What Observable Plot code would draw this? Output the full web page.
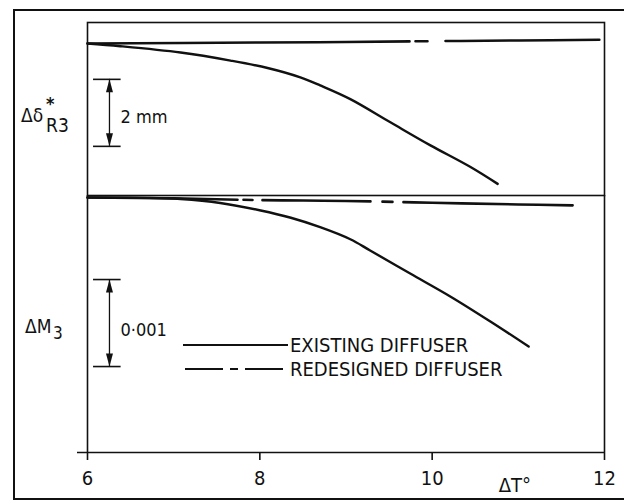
<!DOCTYPE html>
<html>
<head>
<meta charset="utf-8">
<script src="https://cdn.jsdelivr.net/npm/d3@7"></script>
<script src="https://cdn.jsdelivr.net/npm/@observablehq/plot@0.6"></script>
<style>
  html, body { margin: 0; padding: 0; background: #fff; }
  #wrap { position: relative; width: 624px; height: 504px; overflow: hidden; background: #fff; }
  #outer { position: absolute; left: 13px; top: 9px; width: 640px; height: 491px; border: 2px solid #111; box-sizing: border-box; }
  .abs { position: absolute; left: 0; }
  #overlay { position: absolute; left: 0; top: 0; pointer-events: none; }
</style>
</head>
<body>
<div id="wrap">
  <div id="outer"></div>
  <div id="upper" class="abs" style="top:0px"></div>
  <div id="lower" class="abs" style="top:195px"></div>
  <svg id="overlay" width="624" height="504"></svg>
</div>
<script>
// ---------- data ----------
const tickValues = [6, 8, 10, 12];

// upper panel: Δδ*R3 (mm)
const upperExistingT     = [6.0, 6.38, 7.08, 7.66, 8.09, 8.47, 8.70, 9.05, 9.52, 9.98, 10.44, 10.76];
const upperExistingDelta = [0, -0.08, -0.27, -0.51, -0.73, -1.01, -1.25, -1.66, -2.36, -3.04, -3.68, -4.19];
const upperRedesignedT     = [6.0, 8.0, 9.0, 10.0, 11.0, 11.94];
const upperRedesignedDelta = [0, 0.03, 0.045, 0.07, 0.09, 0.11];

// lower panel: ΔM3
const lowerExistingT = [6.0, 6.7, 7.08, 7.54, 8.01, 8.36, 8.70, 9.05, 9.28, 9.75, 10.21, 10.68, 11.12];
const lowerExistingM = [0, -0.000004, -0.000018, -0.000063, -0.000149, -0.000233, -0.000341, -0.000480, -0.000609, -0.000877, -0.001137, -0.001428, -0.001713];
const lowerRedesignedT = [6.0, 7.0, 8.0, 9.0, 10.0, 11.0, 11.63];
const lowerRedesignedM = [0, -0.00001, -0.00003, -0.00004, -0.00006, -0.00008, -0.00009];

// scale bars
const scaleBarT = 6.255;
const scaleBarEndsT = [6.07, 6.39];
const scaleBarMm = [-3.07, -1.07];        // 2 mm
const scaleBarM  = [-0.001943, -0.000943]; // 0.001
const scaleBarLabels = ["2 mm", "0·001"];

const seriesNames = ["EXISTING DIFFUSER", "REDESIGNED DIFFUSER"];

// ---------- helpers ----------
const FONT = "'DejaVu Sans Condensed', 'Liberation Sans Narrow', sans-serif";
const INK = "#111";
const toRows = (ts, vs) => ts.map((t, i) => ({T: t, v: vs[i]}));
const arrowUp = {draw(c) { c.moveTo(0, 0); c.lineTo(3.5, 13); c.lineTo(-3.5, 13); c.closePath(); }};
const arrowDown = {draw(c) { c.moveTo(0, 0); c.lineTo(3.5, -13); c.lineTo(-3.5, -13); c.closePath(); }};

function scaleBarMarks(vals, label, labelDy) {
  const [lo, hi] = vals;
  return [
    Plot.ruleY(vals, {x1: scaleBarEndsT[0], x2: scaleBarEndsT[1], stroke: INK, strokeWidth: 1.6}),
    Plot.ruleX([scaleBarT], {y1: lo, y2: hi, stroke: INK, strokeWidth: 1.3}),
    Plot.dot([{T: scaleBarT, v: hi}], {x: "T", y: "v", symbol: arrowUp, fill: INK, stroke: "none"}),
    Plot.dot([{T: scaleBarT, v: lo}], {x: "T", y: "v", symbol: arrowDown, fill: INK, stroke: "none"}),
    Plot.text([{T: scaleBarT, v: (lo + hi) / 2, label}], {x: "T", y: "v", text: "label", dx: 11, dy: labelDy, textAnchor: "start", fontSize: 18, fill: INK})
  ];
}

// ---------- upper panel ----------
const upper = Plot.plot({
  width: 624, height: 196,
  marginTop: 22, marginBottom: 1, marginLeft: 87, marginRight: 20,
  x: {domain: [6, 12], axis: null},
  y: {domain: [-4.537, 0.627], axis: null},
  style: {fontFamily: FONT, fontSize: "20px", color: INK, background: "transparent", overflow: "visible"},
  marks: [
    Plot.frame({stroke: INK, strokeWidth: 1.6}),
    Plot.line(toRows(upperRedesignedT, upperRedesignedDelta), {x: "T", y: "v", stroke: INK, strokeWidth: 2.6, strokeDasharray: "322,6,12,18,1000", curve: "catmull-rom"}),
    Plot.line(toRows(upperExistingT, upperExistingDelta), {x: "T", y: "v", stroke: INK, strokeWidth: 2.4, curve: "catmull-rom"}),
    ...scaleBarMarks(scaleBarMm, scaleBarLabels[0], 4)
  ]
});
document.getElementById("upper").appendChild(upper);

// ---------- lower panel ----------
const lower = Plot.plot({
  width: 624, height: 309,
  marginTop: 0, marginBottom: 52, marginLeft: 87, marginRight: 20,
  x: {domain: [6, 12], ticks: tickValues, tickSize: 8, tickPadding: 10, tickFormat: d => String(d), label: null},
  y: {domain: [-0.002931, 0.000023], axis: null},
  style: {fontFamily: FONT, fontSize: "20px", color: INK, background: "transparent", overflow: "visible"},
  marks: [
    Plot.ruleX([6, 12], {stroke: INK, strokeWidth: 1.6}),
    Plot.ruleY([-0.002931], {x1: 5.884, x2: 12, stroke: INK, strokeWidth: 1.6}),
    Plot.line(toRows(lowerRedesignedT, lowerRedesignedM), {x: "T", y: "v", stroke: INK, strokeWidth: 2.6, strokeDasharray: "150,6,9,10,108,12,10,11,1000", curve: "catmull-rom"}),
    Plot.line(toRows(lowerExistingT, lowerExistingM), {x: "T", y: "v", stroke: INK, strokeWidth: 2.4, curve: "catmull-rom"}),
    ...scaleBarMarks(scaleBarM, scaleBarLabels[1], 7),
    Plot.text(["ΔT°"], {x: 10.96, frameAnchor: "bottom", dy: 39, fontSize: 20, fill: INK})
  ]
});
document.getElementById("lower").appendChild(lower);
d3.select(lower).selectAll("[aria-label='x-axis'] line, [aria-label='x-axis tick'] path, g[aria-label='x-axis'] path").attr("stroke-width", 1.6);

// ---------- axis titles & legend (overlay) ----------
const ov = d3.select("#overlay").style("font-family", FONT).style("fill", INK);
// Δδ*R3
ov.append("text").attr("x", 21).attr("y", 122).attr("font-size", 19).text("Δδ");
ov.append("text").attr("x", 46).attr("y", 110).attr("font-size", 18).attr("font-weight", "bold").text("*");
ov.append("text").attr("x", 46).attr("y", 132).attr("font-size", 19).text("R3");
// ΔM3
ov.append("text").attr("x", 25).attr("y", 333).attr("font-size", 19).text("ΔM");
ov.append("text").attr("x", 53).attr("y", 339).attr("font-size", 17).text("3");
// legend
const legendY = [345, 369];
const legendDash = [null, "38,7,8,7"];
seriesNames.forEach((name, i) => {
  ov.append("line").attr("x1", i ? 185 : 183).attr("x2", i ? 286 : 288)
    .attr("y1", legendY[i]).attr("y2", legendY[i])
    .attr("stroke", INK).attr("stroke-width", 2)
    .attr("stroke-dasharray", legendDash[i]);
  ov.append("text").attr("x", 290).attr("y", legendY[i]).attr("dy", "0.36em")
    .attr("font-size", 20).text(name);
});
</script>
</body>
</html>
